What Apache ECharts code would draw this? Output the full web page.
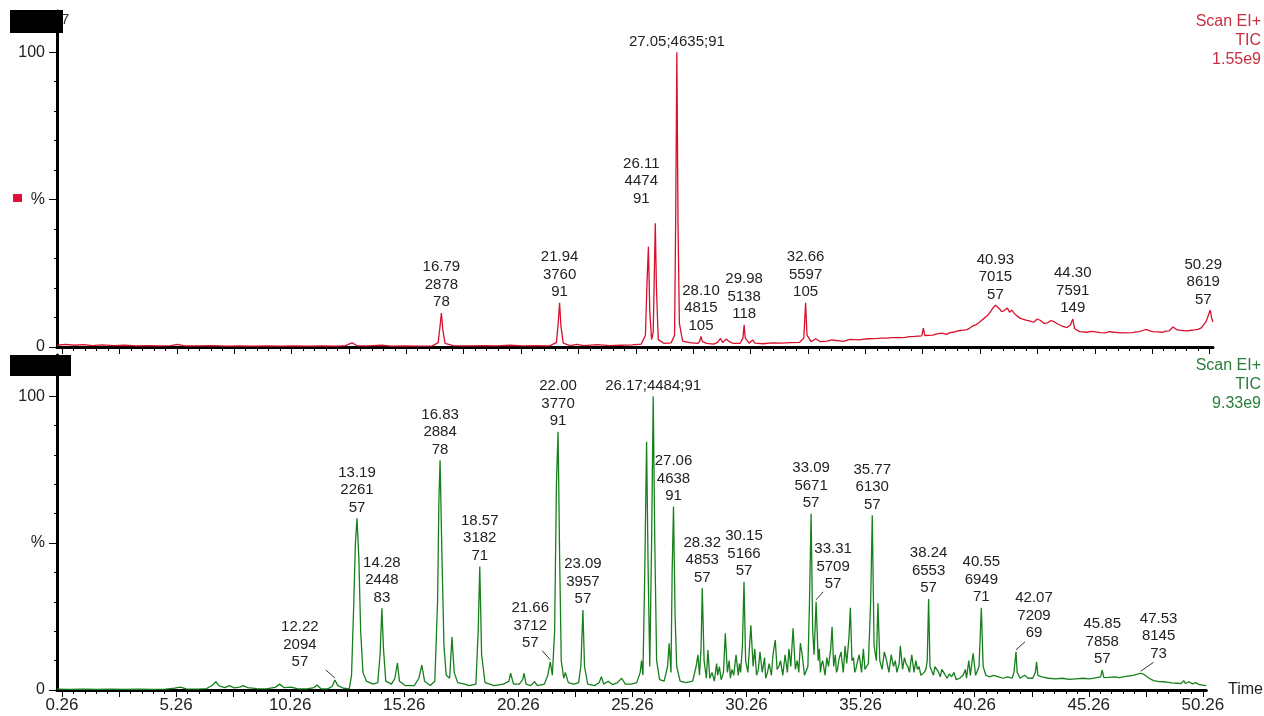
<!DOCTYPE html>
<html>
<head>
<meta charset="utf-8">
<title>TIC chromatograms</title>
<script src="https://cdn.jsdelivr.net/npm/echarts@6/dist/echarts.min.js"></script>
<style>
  html, body { margin: 0; padding: 0; background: #fff; }
  #chart { width: 1264px; height: 716px; }
</style>
</head>
<body>
<div id="chart"></div>
<script>
// ---- Upper trace (Scan EI+, TIC 1.55e9): unlabelled points, [time min, % of max] ----
const topTrace = [
  [0.05,0.6],[0.4,0.9],[0.8,0.6],[1.2,0.8],[1.6,0.5],[2.0,0.7],[2.5,0.5],[3.0,0.6],[3.5,0.4],[4.0,0.5],
  [4.5,0.4],[5.0,0.5],[5.3,0.9],[5.6,0.4],[6.2,0.4],[6.8,0.5],[7.4,0.3],[8.0,0.4],[8.6,0.3],[9.2,0.4],
  [9.8,0.3],[10.4,0.4],[11.0,0.3],[11.6,0.4],[12.2,0.3],[12.6,0.5],[12.9,1.4],[13.1,0.5],[13.6,0.4],
  [14.2,0.6],[14.6,0.3],[15.2,0.4],[15.8,0.3],[16.4,0.4],[16.65,1.5],[16.73,7],[16.85,6],[16.95,1.2],
  [17.3,0.5],[17.9,0.4],[18.6,0.5],[19.2,0.4],[19.8,0.6],[20.3,0.4],[20.9,0.5],[21.5,0.4],[21.8,1.5],
  [21.88,8],[22.0,7],[22.1,1.3],[22.4,0.5],[22.7,0.9],[23.0,0.5],[23.6,0.8],[24.1,0.5],[24.6,0.6],
  [25.1,0.7],[25.5,1.0],[25.68,4],[25.75,22],[25.81,34],[25.87,12],[25.95,2.5],[26.02,5],[26.07,26],
  [26.16,20],[26.24,2.5],[26.5,1.2],[26.8,1.4],[26.95,4],[27.0,45],[27.1,42],[27.16,8],[27.3,2],
  [27.6,1.5],[27.95,1.2],[28.04,1.8],[28.16,1.8],[28.35,1.2],[28.65,1.0],[28.82,1.6],[28.95,2.9],
  [29.05,1.5],[29.2,2.7],[29.3,2.0],[29.5,1.2],[29.8,1.2],[29.93,3],[30.03,3],[30.2,1.3],[30.35,2.4],
  [30.45,1.3],[30.8,1.1],[31.2,1.4],[31.6,1.3],[32.0,1.5],[32.4,1.6],[32.58,3],[32.72,4],[32.9,1.8],
  [33.1,2.8],[33.3,1.8],[33.6,2.0],[33.8,2.4],[34.0,2.2],[34.15,2.1],[34.3,1.9],[34.6,2.6],[34.8,2.5],
  [35.0,2.4],[35.2,2.7],[35.4,2.8],[35.8,2.9],[36.0,3.0],[36.2,3.0],[36.4,3.2],[36.6,3.2],[36.8,3.2],
  [37.0,3.3],[37.2,3.5],[37.4,3.6],[37.72,3.8],[37.79,6.4],[37.85,3.9],[38.2,4.0],[38.35,4.4],[38.5,4.6],
  [38.65,4.6],[38.8,4.3],[38.95,4.9],[39.1,5.0],[39.25,5.4],[39.4,5.6],[39.55,5.7],[39.7,5.9],[39.85,6.6],
  [39.95,7.2],[40.1,7.6],[40.2,8.2],[40.35,9.2],[40.45,9.8],[40.6,10.8],[40.7,11.8],[40.85,13.5],
  [41.1,13],[41.2,12.0],[41.3,12.3],[41.45,13.2],[41.55,11.8],[41.64,12.5],[41.8,11],[42.0,9.8],
  [42.15,9.4],[42.3,9.0],[42.45,8.8],[42.6,8.4],[42.75,9.5],[42.9,9.0],[43.05,8.0],[43.2,8.2],[43.35,9.0],
  [43.5,8.5],[43.65,7.8],[43.8,7.2],[44.05,6.6],[44.2,7.5],[44.38,6.2],[44.6,5.2],[44.9,5.0],[45.1,5.3],
  [45.3,5.1],[45.5,4.9],[45.7,4.8],[45.9,5.2],[46.1,5.0],[46.3,4.9],[46.5,4.8],[46.9,4.9],[47.05,5.1],
  [47.2,5.2],[47.35,5.6],[47.5,6.0],[47.65,5.5],[47.8,5.2],[48.0,5.1],[48.2,5.0],[48.35,5.4],[48.5,5.5],
  [48.67,6.8],[48.85,5.8],[49.2,5.5],[49.4,5.6],[49.6,5.8],[49.75,6.0],[49.9,6.5],[50.1,8.5],[50.36,9.5],
  [50.41,8.5]
];
// labelled peaks of the upper trace
const topPeakTime   = [16.79, 21.94, 26.11, 27.05, 28.10, 29.98, 32.66, 40.93, 44.30, 50.29];
const topPeakHeight = [11.5,  15,    42,    100,   3.6,   7.5,   15,    14.2,  9.5,   12.5];
const topPeakScan   = ['2878','3760','4474','4635','4815','5138','5597','7015','7591','8619'];
const topPeakIon    = ['78',  '91',  '91',  '91',  '105', '118', '105', '57',  '149', '57'];

// ---- Lower trace (Scan EI+, TIC 9.33e9): unlabelled points ----
const bottomTrace = [
  [0.05,0.3],[0.6,0.2],[1.2,0.3],[1.8,0.2],[2.4,0.3],[3.0,0.2],[3.6,0.3],[4.2,0.2],[4.8,0.3],[5.2,0.6],
  [5.45,1.0],[5.7,0.4],[6.2,0.3],[6.6,0.5],[6.85,1.6],[7.0,2.8],[7.15,1.4],[7.4,0.8],[7.6,1.5],[7.8,0.7],
  [8.05,1.0],[8.2,1.5],[8.4,0.8],[8.8,0.5],[9.2,0.4],[9.6,0.9],[9.8,2.0],[10.0,0.8],[10.3,1.0],[10.6,0.4],
  [11.0,0.4],[11.3,0.8],[11.43,1.7],[11.6,0.5],[11.9,0.4],[12.1,1.2],[12.35,1.5],[12.6,0.6],[12.85,0.4],
  [12.95,5],[13.05,30],[13.12,50],[13.27,45],[13.35,20],[13.45,6],[13.6,3],[13.9,2],[14.1,2.5],[14.2,12],
  [14.35,14],[14.45,3],[14.7,2],[14.85,4],[14.96,9.2],[15.05,3],[15.3,1.5],[15.7,1.5],[15.9,4],[16.03,8.5],
  [16.15,3],[16.4,1.5],[16.6,3],[16.72,30],[16.78,65],[16.9,50],[17.0,15],[17.1,5],[17.25,4],[17.35,18],
  [17.45,6],[17.6,2.5],[17.9,2],[18.1,1.5],[18.4,2],[18.5,20],[18.65,12],[18.8,2.5],[19.2,1.5],[19.6,2],
  [19.85,3],[19.92,5.7],[20.05,2],[20.3,2],[20.45,3.5],[20.51,5.7],[20.6,2],[20.8,1.5],[20.97,2.8],
  [21.1,1.5],[21.4,2],[21.55,5],[21.75,5],[21.85,20],[21.93,70],[22.07,45],[22.14,10],[22.25,4],
  [22.32,6],[22.45,2.5],[22.7,2],[22.9,2.5],[23.0,8],[23.16,8],[23.3,2],[23.6,1.5],[23.8,2.5],[23.9,4.5],
  [24.0,2],[24.2,3],[24.4,1.8],[24.6,2.5],[24.79,4],[24.95,2],[25.2,2],[25.45,2.5],[25.6,6],[25.66,10],
  [25.72,5],[25.8,40],[25.88,84.5],[25.95,40],[26.02,8],[26.1,50],[26.24,50],[26.32,10],[26.45,3.5],
  [26.65,3],[26.8,8],[26.87,15.9],[26.95,6],[27.0,40],[27.13,25],[27.2,8],[27.35,3],[27.6,2.5],[27.9,3],
  [28.05,8],[28.13,12],[28.2,5],[28.27,15],[28.4,10],[28.5,4],[28.57,13.6],[28.65,4],[28.75,6],[28.85,3],
  [28.95,9],[29.0,5],[29.07,8],[29.15,3.5],[29.25,6],[29.33,19.3],[29.42,6],[29.5,10],[29.55,4],[29.62,7],
  [29.7,5],[29.8,12],[29.9,5],[29.95,9],[30.0,6],[30.08,15],[30.22,10],[30.32,6],[30.45,22],[30.55,8],
  [30.62,14],[30.7,5],[30.78,7],[30.85,13],[30.95,6],[31.05,11],[31.1,4],[31.18,6],[31.25,9],[31.35,5],
  [31.42,12],[31.52,17],[31.6,7],[31.68,8],[31.75,10],[31.85,5],[31.95,12],[32.05,6],[32.12,14],[32.2,8],
  [32.3,21],[32.4,7],[32.48,10],[32.55,6],[32.62,16],[32.7,12],[32.8,5],[32.95,8],[33.02,30],[33.16,20],
  [33.22,12],[33.4,10],[33.45,14],[33.5,6],[33.55,9],[33.6,10],[33.7,5],[33.78,11],[33.85,8],[33.95,14],
  [34.01,21.5],[34.08,8],[34.15,12],[34.2,6],[34.25,7],[34.3,10],[34.4,13],[34.5,6],[34.58,15],[34.65,9],
  [34.75,18],[34.81,28],[34.88,10],[34.95,11],[35.0,6],[35.05,7],[35.1,9],[35.2,12],[35.3,6],[35.38,14],
  [35.45,7],[35.52,8],[35.6,9],[35.7,30],[35.85,15],[35.95,10],[36.02,29.5],[36.1,10],[36.2,7],[36.3,13],
  [36.4,10],[36.5,6],[36.6,12],[36.7,8],[36.78,10],[36.85,6],[36.95,9],[37.0,15],[37.1,7],[37.18,11],
  [37.25,9],[37.33,8],[37.4,6],[37.5,12],[37.6,6],[37.68,10],[37.75,7],[37.82,8],[37.9,5],[38.05,6],
  [38.12,7],[38.18,10],[38.3,8],[38.45,5],[38.52,8],[38.6,7],[38.68,6],[38.75,4.5],[38.82,7],[38.9,6],
  [39.05,4],[39.15,5.5],[39.25,4.5],[39.35,6],[39.45,3.5],[39.6,4],[39.75,5],[39.85,7],[39.9,4],
  [40.0,10],[40.07,5],[40.19,12.5],[40.3,5],[40.45,8],[40.63,8],[40.75,5],[40.9,4.5],[41.1,5],[41.3,4.5],
  [41.5,4],[41.7,4.5],[41.9,4],[41.98,6],[42.12,6],[42.25,4],[42.45,5],[42.6,4],[42.8,4],[42.92,6],
  [42.97,9.6],[43.03,5],[43.2,4.5],[43.5,4],[43.8,3.8],[44.1,4],[44.4,3.6],[44.7,3.8],[45.0,4],[45.3,3.8],
  [45.6,4.2],[45.78,4.5],[45.92,4.2],[46.1,4.3],[46.4,4.5],[46.6,4.2],[46.9,4.6],[47.2,5],[47.4,5.4],
  [47.7,5.2],[47.9,4],[48.1,3.2],[48.3,2.9],[48.6,2.8],[48.9,2.4],[49.15,2.3],[49.3,2.2],[49.42,3.2],
  [49.5,2.2],[49.65,2.8],[49.8,2.1],[49.95,2.5],[50.1,1.8],[50.41,1.5]
];
// labelled peaks of the lower trace
const bottomPeakTime   = [12.22, 13.19, 14.28, 16.83, 18.57, 21.66, 22.00, 23.09, 26.17, 27.06,
                          28.32, 30.15, 33.09, 33.31, 35.77, 38.24, 40.55, 42.07, 45.85, 47.53];
const bottomPeakHeight = [3.4,   58.4,  27.8,  78.2,  42,    9.6,   87.9,  27.2,  100,   62.4,
                          34.6,  36.8,  60,    30,    59.5,  31,    28,    13,    6.8,   5.7];
const bottomPeakScan   = ['2094','2261','2448','2884','3182','3712','3770','3957','4484','4638',
                          '4853','5166','5671','5709','6130','6553','6949','7209','7858','8145'];
const bottomPeakIon    = ['57','57','83','78','71','57','91','57','91','91',
                          '57','57','57','57','57','57','71','69','57','73'];

// ---- axis tick values (minutes / percent) ----
const timeLabels = [0.26, 5.26, 10.26, 15.26, 20.26, 25.26, 30.26, 35.26, 40.26, 45.26, 50.26];
const timeMajorTicks = [0.26, 2.76, 5.26, 7.76, 10.26, 12.76, 15.26, 17.76, 20.26, 22.76, 25.26, 27.76,
                        30.26, 32.76, 35.26, 37.76, 40.26, 42.76, 45.26, 47.76, 50.26];
const timeMinorTicks = [0.26, 0.76, 1.26, 1.76, 2.26, 2.76, 3.26, 3.76, 4.26, 4.76, 5.26, 5.76, 6.26, 6.76,
  7.26, 7.76, 8.26, 8.76, 9.26, 9.76, 10.26, 10.76, 11.26, 11.76, 12.26, 12.76, 13.26, 13.76, 14.26, 14.76,
  15.26, 15.76, 16.26, 16.76, 17.26, 17.76, 18.26, 18.76, 19.26, 19.76, 20.26, 20.76, 21.26, 21.76, 22.26,
  22.76, 23.26, 23.76, 24.26, 24.76, 25.26, 25.76, 26.26, 26.76, 27.26, 27.76, 28.26, 28.76, 29.26, 29.76,
  30.26, 30.76, 31.26, 31.76, 32.26, 32.76, 33.26, 33.76, 34.26, 34.76, 35.26, 35.76, 36.26, 36.76, 37.26,
  37.76, 38.26, 38.76, 39.26, 39.76, 40.26, 40.76, 41.26, 41.76, 42.26, 42.76, 43.26, 43.76, 44.26, 44.76,
  45.26, 45.76, 46.26, 46.76, 47.26, 47.76, 48.26, 48.76, 49.26, 49.76, 50.26];
const pctLabels = [0, 50, 100];
const pctMinorTicks = [10, 20, 30, 40, 60, 70, 80, 90];

// header texts of each trace
const topHeader = ['Scan EI+', 'TIC', '1.55e9'];
const bottomHeader = ['Scan EI+', 'TIC', '9.33e9'];

// ---- label placement (pixel offsets from the apex) ----
const topPlacement = {
  '26.11': { dx: -14, dy: -16 },
  '27.05': { inline: true },
  '50.29': { dx: -7 }
};
const bottomPlacement = {
  '12.22': { dx: -35, dy: -9, leader: [-9, -10] },
  '21.66': { dx: -20, dy: -10, leader: [-8, -11] },
  '26.17': { inline: true },
  '33.31': { dx: 17, dy: -9, leader: [7, -10] },
  '42.07': { dx: 18, dy: -10, leader: [9, -10] },
  '47.53': { dx: 18, dy: -11, leader: [13, -11] }
};

const FONT = '"Liberation Sans", Arial, sans-serif';
const RED = '#d8102c';
const GREEN = '#17801c';
const X_MIN = 0.042, X_MAX = 50.41, Y_MAX = 114;

function buildTrace(points, times, heights) {
  return points.concat(times.map((t, i) => [t, heights[i]])).sort((a, b) => a[0] - b[0]);
}

function annotationRenderer(times, scans, ions, placement) {
  return function (params, api) {
    const i = params.dataIndex;
    const p = api.coord([api.value(0), api.value(1)]);
    const key = times[i].toFixed(2);
    const pl = placement[key] || {};
    const dx = pl.dx || 0;
    const dy = pl.dy == null ? -2 : pl.dy;
    const parts = [key, scans[i], ions[i]];
    const text = pl.inline ? parts.join(';') : parts.join('\n');
    const children = [{
      type: 'text',
      style: {
        text: text, x: p[0] + dx, y: p[1] + dy,
        align: 'center', verticalAlign: 'bottom',
        textAlign: 'center', textVerticalAlign: 'bottom',
        font: '15px ' + FONT, fill: '#222', lineHeight: 17.5
      }
    }];
    if (pl.leader) {
      children.push({
        type: 'line',
        shape: { x1: p[0], y1: p[1] - 2, x2: p[0] + pl.leader[0], y2: p[1] + pl.leader[1] },
        style: { stroke: '#333', lineWidth: 1 }
      });
    }
    return { type: 'group', children: children };
  };
}

function timeAxes(gridIndex, withLabels) {
  const major = {
    type: 'value', gridIndex: gridIndex, position: 'bottom', min: X_MIN, max: X_MAX,
    axisLine: { show: true, onZero: false, lineStyle: { color: '#000', width: 3 } },
    axisTick: { show: true, customValues: timeMajorTicks, length: 7, lineStyle: { color: '#000', width: 1 } },
    axisLabel: withLabels ? {
      show: true, customValues: timeLabels, margin: 7,
      formatter: v => v.toFixed(2), fontFamily: FONT, fontSize: 17, color: '#222'
    } : { show: false },
    splitLine: { show: false }
  };
  if (withLabels) {
    major.name = 'Time';
    major.nameLocation = 'end';
    major.nameGap = 10;
    major.nameTextStyle = { fontFamily: FONT, fontSize: 16, color: '#222', verticalAlign: 'middle' };
  }
  const minor = {
    type: 'value', gridIndex: gridIndex, position: 'bottom', min: X_MIN, max: X_MAX,
    axisLine: { show: false },
    axisTick: { show: true, customValues: timeMinorTicks, length: 4, lineStyle: { color: '#000', width: 1 } },
    axisLabel: { show: false },
    splitLine: { show: false }
  };
  return [major, minor];
}

function pctAxes(gridIndex) {
  return [{
    type: 'value', gridIndex: gridIndex, position: 'left', min: 0, max: Y_MAX,
    axisLine: { show: true, onZero: false, lineStyle: { color: '#000', width: 3 } },
    axisTick: { show: true, customValues: pctLabels, length: 8, lineStyle: { color: '#000', width: 1 } },
    axisLabel: {
      show: true, customValues: pctLabels, margin: 12,
      formatter: v => (v === 50 ? '%' : String(v)), fontFamily: FONT, fontSize: 16, color: '#222'
    },
    splitLine: { show: false }
  }, {
    type: 'value', gridIndex: gridIndex, position: 'left', min: 0, max: Y_MAX,
    axisLine: { show: false },
    axisTick: { show: true, customValues: pctMinorTicks, length: 3, lineStyle: { color: '#000', width: 1 } },
    axisLabel: { show: false },
    splitLine: { show: false }
  }];
}

function headerTexts(lines, top, color) {
  return lines.map((t, i) => ({
    type: 'text', right: 3, top: top + i * 19,
    style: { text: t, font: '16px ' + FONT, fill: color, textAlign: 'right' }
  }));
}

const chart = echarts.init(document.getElementById('chart'), null, { renderer: 'canvas' });

chart.setOption({
  animation: false,
  backgroundColor: '#fff',
  grid: [
    { left: 57, right: 51, top: 11, height: 336 },
    { left: 57, right: 51, top: 355, height: 335 }
  ],
  xAxis: timeAxes(0, false).concat(timeAxes(1, true)),
  yAxis: pctAxes(0).concat(pctAxes(1)),
  series: [
    {
      type: 'line', xAxisIndex: 0, yAxisIndex: 0, showSymbol: false, symbol: 'none',
      data: buildTrace(topTrace, topPeakTime, topPeakHeight),
      lineStyle: { color: RED, width: 1.3 }, z: 3
    },
    {
      type: 'line', xAxisIndex: 2, yAxisIndex: 2, showSymbol: false, symbol: 'none',
      data: buildTrace(bottomTrace, bottomPeakTime, bottomPeakHeight),
      lineStyle: { color: GREEN, width: 1.3 }, z: 3
    },
    {
      type: 'custom', xAxisIndex: 0, yAxisIndex: 0, clip: false, z: 5,
      data: topPeakTime.map((t, i) => [t, topPeakHeight[i]]),
      renderItem: annotationRenderer(topPeakTime, topPeakScan, topPeakIon, topPlacement)
    },
    {
      type: 'custom', xAxisIndex: 2, yAxisIndex: 2, clip: false, z: 5,
      data: bottomPeakTime.map((t, i) => [t, bottomPeakHeight[i]]),
      renderItem: annotationRenderer(bottomPeakTime, bottomPeakScan, bottomPeakIon, bottomPlacement)
    }
  ],
  graphic: [
    { type: 'text', left: 61, top: 12, z: 10, style: { text: '7', font: '15px ' + FONT, fill: '#333' } },
    { type: 'rect', left: 10, top: 10, z: 20, shape: { width: 53, height: 23 }, style: { fill: '#000' } },
    { type: 'rect', left: 10, top: 355, z: 20, shape: { width: 61, height: 21 }, style: { fill: '#000' } },
    { type: 'rect', left: 13, top: 194, z: 20, shape: { width: 9, height: 8 }, style: { fill: '#e0103a' } }
  ].concat(headerTexts(topHeader, 14, '#c8303f'), headerTexts(bottomHeader, 358, '#2a7d3a'))
});
</script>
</body>
</html>
